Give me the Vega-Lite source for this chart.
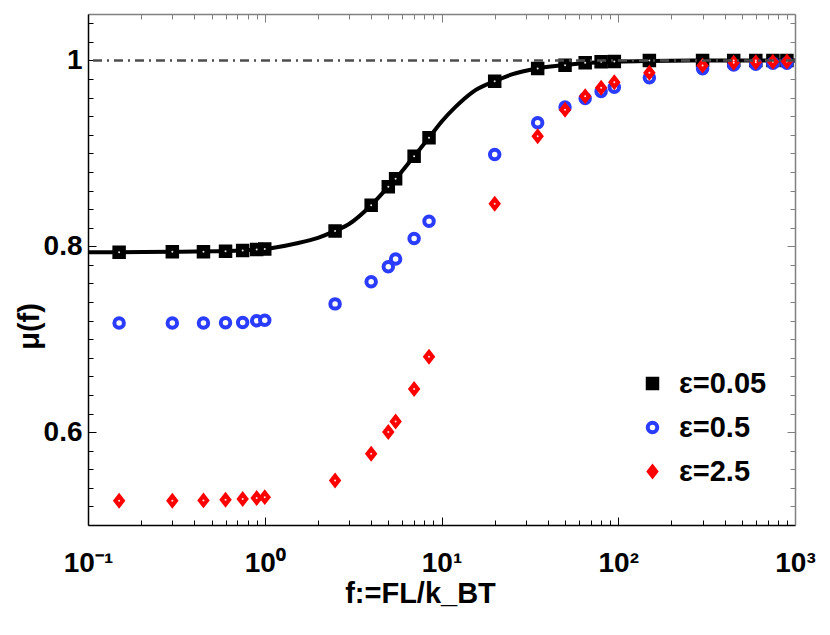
{
  "$schema": "https://vega.github.io/schema/vega-lite/v6.json",
  "width": 707,
  "height": 511,
  "autosize": {"type": "none"},
  "padding": {"left": 88, "top": 14, "right": 35, "bottom": 110},
  "background": "white",
  "config": {
    "view": {"stroke": null},
    "font": "Liberation Sans",
    "legend": {
      "orient": "none",
      "legendX": 550,
      "legendY": 355,
      "labelFont": "Liberation Sans",
      "labelFontSize": 29,
      "labelFontWeight": "bold",
      "labelColor": "black",
      "rowPadding": 14,
      "labelOffset": 12,
      "symbolStrokeWidth": 4
    }
  },
  "datasets": {
    "points": [
      {"f": 0.15, "mu": 0.7935, "eps": "ε=0.05"},
      {"f": 0.3, "mu": 0.794, "eps": "ε=0.05"},
      {"f": 0.45, "mu": 0.794, "eps": "ε=0.05"},
      {"f": 0.6, "mu": 0.7946, "eps": "ε=0.05"},
      {"f": 0.75, "mu": 0.7954, "eps": "ε=0.05"},
      {"f": 0.9, "mu": 0.7964, "eps": "ε=0.05"},
      {"f": 1.0, "mu": 0.797, "eps": "ε=0.05"},
      {"f": 2.5, "mu": 0.8165, "eps": "ε=0.05"},
      {"f": 4, "mu": 0.8442, "eps": "ε=0.05"},
      {"f": 5, "mu": 0.864, "eps": "ε=0.05"},
      {"f": 5.5, "mu": 0.8726, "eps": "ε=0.05"},
      {"f": 7, "mu": 0.897, "eps": "ε=0.05"},
      {"f": 8.5, "mu": 0.9167, "eps": "ε=0.05"},
      {"f": 20, "mu": 0.9777, "eps": "ε=0.05"},
      {"f": 35, "mu": 0.9914, "eps": "ε=0.05"},
      {"f": 50, "mu": 0.9949, "eps": "ε=0.05"},
      {"f": 65, "mu": 0.9975, "eps": "ε=0.05"},
      {"f": 80, "mu": 0.9986, "eps": "ε=0.05"},
      {"f": 95, "mu": 0.999, "eps": "ε=0.05"},
      {"f": 150, "mu": 1.0, "eps": "ε=0.05"},
      {"f": 300, "mu": 1.0, "eps": "ε=0.05"},
      {"f": 450, "mu": 1.0, "eps": "ε=0.05"},
      {"f": 600, "mu": 1.0, "eps": "ε=0.05"},
      {"f": 750, "mu": 1.0, "eps": "ε=0.05"},
      {"f": 900, "mu": 1.0, "eps": "ε=0.05"},
      {"f": 0.15, "mu": 0.7175, "eps": "ε=0.5"},
      {"f": 0.3, "mu": 0.7175, "eps": "ε=0.5"},
      {"f": 0.45, "mu": 0.7175, "eps": "ε=0.5"},
      {"f": 0.6, "mu": 0.7178, "eps": "ε=0.5"},
      {"f": 0.75, "mu": 0.718, "eps": "ε=0.5"},
      {"f": 0.9, "mu": 0.7198, "eps": "ε=0.5"},
      {"f": 1.0, "mu": 0.7203, "eps": "ε=0.5"},
      {"f": 2.5, "mu": 0.738, "eps": "ε=0.5"},
      {"f": 4, "mu": 0.7617, "eps": "ε=0.5"},
      {"f": 5, "mu": 0.778, "eps": "ε=0.5"},
      {"f": 5.5, "mu": 0.7864, "eps": "ε=0.5"},
      {"f": 7, "mu": 0.8083, "eps": "ε=0.5"},
      {"f": 8.5, "mu": 0.827, "eps": "ε=0.5"},
      {"f": 20, "mu": 0.8988, "eps": "ε=0.5"},
      {"f": 35, "mu": 0.9329, "eps": "ε=0.5"},
      {"f": 50, "mu": 0.95, "eps": "ε=0.5"},
      {"f": 65, "mu": 0.959, "eps": "ε=0.5"},
      {"f": 80, "mu": 0.9666, "eps": "ε=0.5"},
      {"f": 95, "mu": 0.9712, "eps": "ε=0.5"},
      {"f": 150, "mu": 0.9814, "eps": "ε=0.5"},
      {"f": 300, "mu": 0.991, "eps": "ε=0.5"},
      {"f": 450, "mu": 0.995, "eps": "ε=0.5"},
      {"f": 600, "mu": 0.996, "eps": "ε=0.5"},
      {"f": 750, "mu": 0.997, "eps": "ε=0.5"},
      {"f": 900, "mu": 0.997, "eps": "ε=0.5"},
      {"f": 0.15, "mu": 0.5261, "eps": "ε=2.5"},
      {"f": 0.3, "mu": 0.5261, "eps": "ε=2.5"},
      {"f": 0.45, "mu": 0.5265, "eps": "ε=2.5"},
      {"f": 0.6, "mu": 0.5272, "eps": "ε=2.5"},
      {"f": 0.75, "mu": 0.528, "eps": "ε=2.5"},
      {"f": 0.9, "mu": 0.529, "eps": "ε=2.5"},
      {"f": 1.0, "mu": 0.53, "eps": "ε=2.5"},
      {"f": 2.5, "mu": 0.548, "eps": "ε=2.5"},
      {"f": 4, "mu": 0.5767, "eps": "ε=2.5"},
      {"f": 5, "mu": 0.6, "eps": "ε=2.5"},
      {"f": 5.5, "mu": 0.6115, "eps": "ε=2.5"},
      {"f": 7, "mu": 0.6464, "eps": "ε=2.5"},
      {"f": 8.5, "mu": 0.681, "eps": "ε=2.5"},
      {"f": 20, "mu": 0.8457, "eps": "ε=2.5"},
      {"f": 35, "mu": 0.9185, "eps": "ε=2.5"},
      {"f": 50, "mu": 0.947, "eps": "ε=2.5"},
      {"f": 65, "mu": 0.9616, "eps": "ε=2.5"},
      {"f": 80, "mu": 0.9706, "eps": "ε=2.5"},
      {"f": 95, "mu": 0.9766, "eps": "ε=2.5"},
      {"f": 150, "mu": 0.9868, "eps": "ε=2.5"},
      {"f": 300, "mu": 0.9946, "eps": "ε=2.5"},
      {"f": 450, "mu": 0.9975, "eps": "ε=2.5"},
      {"f": 600, "mu": 0.998, "eps": "ε=2.5"},
      {"f": 750, "mu": 0.9985, "eps": "ε=2.5"},
      {"f": 900, "mu": 0.999, "eps": "ε=2.5"}
    ],
    "curve": [
      {"f": 0.1, "mu": 0.7935},
      {"f": 0.15, "mu": 0.7937},
      {"f": 0.3, "mu": 0.794},
      {"f": 0.6, "mu": 0.7948},
      {"f": 1.0, "mu": 0.797},
      {"f": 1.5, "mu": 0.803},
      {"f": 2.0, "mu": 0.809},
      {"f": 2.5, "mu": 0.8165},
      {"f": 3, "mu": 0.824},
      {"f": 4, "mu": 0.8442},
      {"f": 5, "mu": 0.864},
      {"f": 5.5, "mu": 0.8726},
      {"f": 7, "mu": 0.897},
      {"f": 8.5, "mu": 0.9167},
      {"f": 10, "mu": 0.934},
      {"f": 12, "mu": 0.95},
      {"f": 15, "mu": 0.966},
      {"f": 20, "mu": 0.9777},
      {"f": 25, "mu": 0.985},
      {"f": 35, "mu": 0.9914},
      {"f": 50, "mu": 0.9952},
      {"f": 70, "mu": 0.9975},
      {"f": 100, "mu": 0.9988},
      {"f": 150, "mu": 0.9995},
      {"f": 300, "mu": 1.0},
      {"f": 1000, "mu": 1.0}
    ]
  },
  "layer": [
    {
      "data": {"name": "curve"},
      "mark": {"type": "line", "color": "black", "strokeWidth": 4, "interpolate": "monotone", "clip": true},
      "encoding": {
        "x": {
          "field": "f", "type": "quantitative",
          "scale": {"type": "log", "domain": [0.1, 1000], "nice": false},
          "axis": {
            "orient": "top",
            "labels": false,
            "title": null,
            "grid": false,
            "values": [0.1,0.2,0.3,0.4,0.5,0.6,0.7,0.8,0.9,1,2,3,4,5,6,7,8,9,10,20,30,40,50,60,70,80,90,100,200,300,400,500,600,700,800,900,1000],
            "tickSize": {"condition": {"test": "indexof([0.1,1,10,100,1000], datum.value) >= 0", "value": -8}, "value": -5},
            "tickColor": "#808080",
            "domainColor": "#808080",
            "domainWidth": 1.5,
            "tickWidth": 1
          }
        },
        "y": {
          "field": "mu", "type": "quantitative",
          "scale": {"domain": [0.5, 1.05], "nice": false, "zero": false},
          "axis": {
            "orient": "right",
            "labels": false,
            "title": null,
            "grid": false,
            "values": [0.52,0.54,0.56,0.58,0.6,0.62,0.64,0.66,0.68,0.7,0.72,0.74,0.76,0.78,0.8,0.82,0.84,0.86,0.88,0.9,0.92,0.94,0.96,0.98,1,1.02,1.04],
            "tickSize": {"condition": {"test": "indexof([0.6,0.8,1], datum.value) >= 0", "value": -8}, "value": -5},
            "tickColor": "#808080",
            "domainColor": "#808080",
            "domainWidth": 1.5,
            "tickWidth": 1
          }
        }
      }
    },
    {
      "data": {"name": "points"},
      "mark": {"type": "point", "filled": true, "opacity": 1, "clip": true},
      "encoding": {
        "x": {
          "field": "f", "type": "quantitative",
          "scale": {"type": "log", "domain": [0.1, 1000], "nice": false},
          "axis": {
            "orient": "bottom",
            "title": "f:=FL/k_BT",
            "titleFont": "Liberation Sans",
            "titleFontSize": 29,
            "titleFontWeight": "bold",
            "titleColor": "black",
            "titleX": 332,
            "titleY": 77,
            "titleAlign": "center",
            "titleBaseline": "alphabetic",
            "grid": false,
            "values": [0.1,0.2,0.3,0.4,0.5,0.6,0.7,0.8,0.9,1,2,3,4,5,6,7,8,9,10,20,30,40,50,60,70,80,90,100,200,300,400,500,600,700,800,900,1000],
            "labelExpr": "datum.value==0.1?'10⁻¹':datum.value==1?'10⁰':datum.value==10?'10¹':datum.value==100?'10²':datum.value==1000?'10³':''",
            "labelFont": "Liberation Sans",
            "labelFontSize": 28,
            "labelFontWeight": "bold",
            "labelColor": "black",
            "labelBaseline": "alphabetic",
            "labelPadding": 54,
            "labelOverlap": false,
            "labelFlush": false,
            "tickSize": {"condition": {"test": "indexof([0.1,1,10,100,1000], datum.value) >= 0", "value": -8}, "value": -5},
            "tickColor": "black",
            "domainColor": "black",
            "domainWidth": 1.5,
            "tickWidth": 1
          }
        },
        "y": {
          "field": "mu", "type": "quantitative",
          "scale": {"domain": [0.5, 1.05], "nice": false, "zero": false},
          "axis": {
            "orient": "left",
            "title": "μ(f)",
            "titleFont": "Liberation Sans",
            "titleFontSize": 29,
            "titleFontWeight": "bold",
            "titleColor": "black",
            "titleX": -59,
            "titleY": 312,
            "titleAngle": -90,
            "titleAlign": "center",
            "titleBaseline": "middle",
            "grid": false,
            "values": [0.52,0.54,0.56,0.58,0.6,0.62,0.64,0.66,0.68,0.7,0.72,0.74,0.76,0.78,0.8,0.82,0.84,0.86,0.88,0.9,0.92,0.94,0.96,0.98,1,1.02,1.04],
            "labelExpr": "datum.value==1?'1':datum.value==0.8?'0.8':datum.value==0.6?'0.6':''",
            "labelFont": "Liberation Sans",
            "labelFontSize": 28,
            "labelFontWeight": "bold",
            "labelColor": "black",
            "labelBaseline": "middle",
            "labelPadding": 14,
            "labelOverlap": false,
            "tickSize": {"condition": {"test": "indexof([0.6,0.8,1], datum.value) >= 0", "value": -8}, "value": -5},
            "tickColor": "black",
            "domainColor": "black",
            "domainWidth": 1.5,
            "tickWidth": 1
          }
        },
        "shape": {
          "field": "eps", "type": "nominal",
          "scale": {"domain": ["ε=0.05", "ε=0.5", "ε=2.5"], "range": ["square", "circle", "M0,-1L0.78,0L0,1L-0.78,0Z"]},
          "legend": {"title": null}
        },
        "fill": {
          "field": "eps", "type": "nominal",
          "scale": {"domain": ["ε=0.05", "ε=0.5", "ε=2.5"], "range": ["#000000", "#ffffff", "#ff0000"]},
          "legend": {"title": null}
        },
        "stroke": {
          "field": "eps", "type": "nominal",
          "scale": {"domain": ["ε=0.05", "ε=0.5", "ε=2.5"], "range": ["#000000", "#2a3cff", "#ff0000"]},
          "legend": {"title": null}
        },
        "size": {
          "field": "eps", "type": "nominal",
          "scale": {"domain": ["ε=0.05", "ε=0.5", "ε=2.5"], "range": [90, 90, 160]},
          "legend": {"title": null}
        },
        "strokeWidth": {"value": 4}
      }
    },
    {
      "data": {"name": "points"},
      "transform": [{"filter": "datum.eps != 'ε=0.5'"}],
      "mark": {"type": "point", "filled": true, "shape": "circle", "color": "white", "size": 4, "opacity": 0.9, "clip": true},
      "encoding": {
        "x": {"field": "f", "type": "quantitative", "scale": {"type": "log", "domain": [0.1, 1000], "nice": false}, "axis": null},
        "y": {"field": "mu", "type": "quantitative", "scale": {"domain": [0.5, 1.05], "nice": false, "zero": false}, "axis": null}
      }
    },
    {
      "data": {"values": [{}]},
      "mark": {"type": "rule", "color": "#4d4d4d", "strokeWidth": 2.5, "strokeDash": [9, 5, 2, 5]},
      "encoding": {
        "y": {"datum": 1, "type": "quantitative", "axis": null}
      }
    }
  ]
}
